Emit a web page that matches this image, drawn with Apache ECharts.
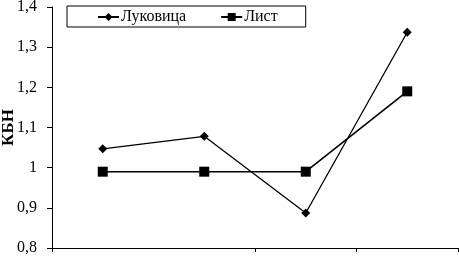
<!DOCTYPE html>
<html><head><meta charset="utf-8">
<script src="https://cdn.jsdelivr.net/npm/echarts@6/dist/echarts.min.js"></script>
<style>html,body{margin:0;padding:0;background:#fff}#c{width:459px;height:257px}</style>
</head><body><div id="c"></div>
<script>
const categories = ['1', '2', '3', '4'];
const lukovica = [1.047, 1.078, 0.887, 1.337];
const list = [0.99, 0.99, 0.99, 1.19];
const seriesNames = ['Луковица', 'Лист'];
const yTicks = { min: 0.8, max: 1.4, interval: 0.1 };
const yName = 'КБН';

const font = '"Liberation Serif", "Times New Roman", serif';
const chart = echarts.init(document.getElementById('c'), null, { renderer: 'canvas' });
chart.setOption({
  animation: false,
  backgroundColor: '#fff',
  grid: { left: 52, right: 1, top: 7, bottom: 9, containLabel: false, outerBoundsMode: 'none' },
  legend: {
    left: 67, top: 6,
    padding: [3, 28, 2, 30],
    itemGap: 34,
    itemWidth: 21, itemHeight: 10,
    borderColor: '#000', borderWidth: 1,
    textStyle: { fontFamily: font, fontSize: 16, color: '#000', padding: [0, 0, 0, -3] },
    data: seriesNames
  },
  xAxis: {
    type: 'category', data: categories, boundaryGap: true,
    axisLine: { lineStyle: { color: '#000', width: 1 } },
    axisTick: { show: true, length: 4, inside: false, interval: (i) => i !== 1, lineStyle: { color: '#000' } },
    axisLabel: { show: false }
  },
  yAxis: {
    type: 'value', min: yTicks.min, max: yTicks.max, interval: yTicks.interval,
    name: yName, nameLocation: 'middle', nameGap: 35, nameRotate: 90, nameMoveOverlap: false,
    nameTextStyle: { fontFamily: font, fontSize: 17, fontWeight: 'bold', color: '#000' },
    axisLine: { show: true, lineStyle: { color: '#000', width: 1 } },
    axisTick: { show: true, length: 5, lineStyle: { color: '#000' } },
    splitLine: { show: false },
    axisLabel: {
      fontFamily: font, fontSize: 16, color: '#000', margin: 15,
      formatter: v => String(Math.round(v * 10) / 10).replace('.', ',')
    }
  },
  series: [
    {
      name: seriesNames[0], type: 'line', data: lukovica,
      symbol: 'diamond', symbolSize: 9,
      lineStyle: { color: '#000', width: 1.3 },
      itemStyle: { color: '#000' }
    },
    {
      name: seriesNames[1], type: 'line', data: list,
      symbol: 'rect', symbolSize: 10,
      lineStyle: { color: '#000', width: 1.6 },
      itemStyle: { color: '#000' }
    }
  ]
});
</script></body></html>
